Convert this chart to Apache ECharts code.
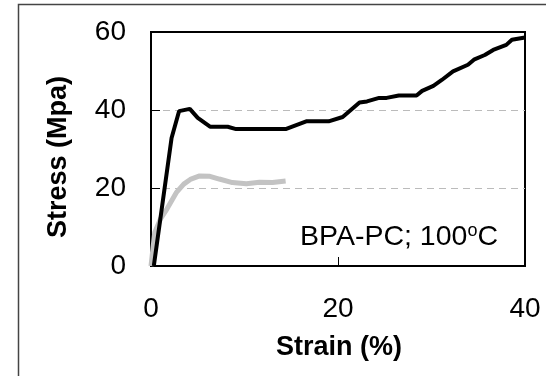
<!DOCTYPE html>
<html><head><meta charset="utf-8">
<script src="https://cdn.jsdelivr.net/npm/echarts@6/dist/echarts.min.js"></script>
<style>html,body{margin:0;padding:0;background:#fff}#c{width:546px;height:376px}</style>
</head><body><div id="c"></div>
<script>
const xTicks = [0, 20, 40];
const yTicks = [0, 20, 40, 60];
const blackStrain = [0.3, 2.2, 3.0, 4.15, 5.0, 6.35, 8.2, 9.1, 14.4, 16.6, 19.0, 20.5, 22.3, 23.1, 24.4, 25.2, 26.5, 28.4, 29.0, 30.2, 31.1, 32.3, 33.9, 34.6, 35.7, 36.6, 38.0, 38.6, 40.0];
const blackStress = [0, 32.8, 39.7, 40.3, 38.0, 35.7, 35.7, 35.1, 35.1, 37.1, 37.1, 38.2, 41.9, 42.2, 43.1, 43.1, 43.7, 43.7, 44.9, 46.2, 47.7, 49.9, 51.6, 53.0, 54.1, 55.4, 56.7, 58.0, 58.6];
const grayStrain = [0, 0.4, 1.0, 1.7, 2.7, 3.5, 4.2, 5.2, 6.3, 7.3, 8.7, 10.2, 11.6, 13.0, 14.4];
const grayStress = [0, 8.6, 12.0, 14.6, 18.8, 21.0, 22.2, 23.1, 23.0, 22.3, 21.4, 21.1, 21.5, 21.4, 21.8];
const annotation = '{a|BPA-PC; 100}{s|o}{a|C}';
const xTitle = 'Strain (%)';
const yTitle = 'Stress (Mpa)';

const zip = (a, b) => a.map((v, i) => [v, b[i]]);
const FONT = '"Liberation Sans", Arial, sans-serif';
const chart = echarts.init(document.getElementById('c'), null, {renderer: 'canvas'});
chart.setOption({
  animation: false,
  backgroundColor: '#fff',
  grid: {left: 151, right: 21, top: 32, bottom: 110, show: true, borderColor: '#000', borderWidth: 2, containLabel: false},
  xAxis: {
    type: 'value', min: xTicks[0], max: xTicks[xTicks.length - 1], interval: 20,
    axisLine: {lineStyle: {color: '#000', width: 2}},
    axisTick: {inside: true, length: 9, lineStyle: {color: '#000', width: 1}},
    axisLabel: {margin: 29, fontSize: 28, color: '#000', fontFamily: FONT},
    splitLine: {show: false}
  },
  yAxis: {
    type: 'value', min: yTicks[0], max: yTicks[yTicks.length - 1], interval: 20,
    axisLine: {show: true, lineStyle: {color: '#000', width: 2}},
    axisTick: {show: true, inside: true, length: 9, lineStyle: {color: '#000', width: 1}},
    axisLabel: {margin: 25, fontSize: 28, color: '#000', fontFamily: FONT},
    splitLine: {show: true, showMinLine: false, showMaxLine: false, lineStyle: {color: '#bbb', type: [7, 5], width: 1}}
  },
  series: [
    {type: 'line', data: zip(grayStrain, grayStress), symbol: 'none', lineStyle: {color: '#c3c3c3', width: 5}, z: 2},
    {type: 'line', data: zip(blackStrain, blackStress), symbol: 'none', lineStyle: {color: '#000', width: 4}, z: 3}
  ],
  graphic: [
    {type: 'rect', shape: {x: 18.5, y: 4.5, width: 700, height: 600}, style: {fill: 'none', stroke: '#444', lineWidth: 1.5}, z: -1},
    {type: 'text', x: 339, y: 348, style: {text: xTitle, font: 'bold 27px ' + FONT, fill: '#000', align: 'center', verticalAlign: 'middle'}},
    {type: 'text', x: 59, y: 157, rotation: Math.PI / 2, style: {text: yTitle, font: 'bold 27px ' + FONT, fill: '#000', align: 'center', verticalAlign: 'middle'}},
    {type: 'text', x: 300, y: 222, style: {text: annotation, fill: '#000', rich: {
      a: {fontSize: 28.5, fontFamily: FONT, fill: '#000', height: 30},
      s: {fontSize: 18, fontFamily: FONT, fill: '#000', verticalAlign: 'top', padding: [0, 0, 12, 0]}
    }}, z: 10}
  ]
});
</script></body></html>
